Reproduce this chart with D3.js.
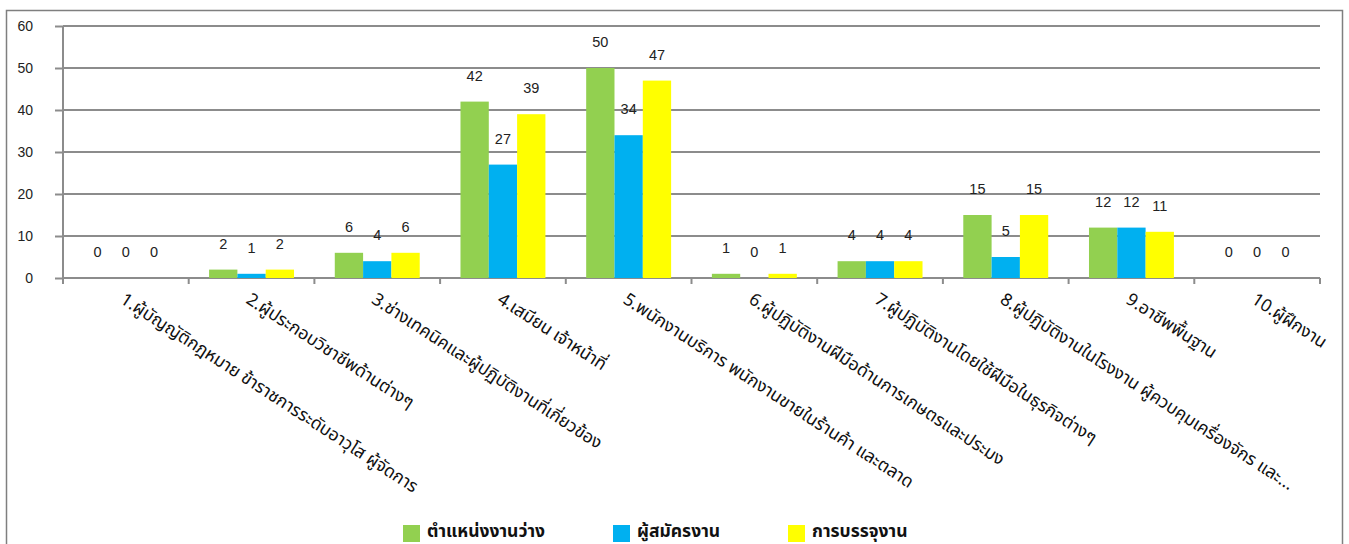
<!DOCTYPE html>
<html>
<head>
<meta charset="utf-8">
<script src="https://cdn.jsdelivr.net/npm/d3@7"></script>
<style>
body { margin: 0; background: #fff; }
svg { display: block; font-family: "Liberation Sans", Arial, "Noto Sans", sans-serif; }
.cat { font-family: "Noto Sans", "Noto Sans Thai", "DejaVu Sans", sans-serif; }
</style>
</head>
<body>
<script>
// chart data
var categories = [
	'1.ผู้บัญญัติกฎหมาย ข้าราชการระดับอาวุโส ผู้จัดการ',
	'2.ผู้ประกอบวิชาชีพด้านต่างๆ',
	'3.ช่างเทคนิคและผู้ปฏิบัติงานที่เกี่ยวข้อง',
	'4.เสมียน เจ้าหน้าที่',
	'5.พนักงานบริการ พนักงานขายในร้านค้า และตลาด',
	'6.ผู้ปฏิบัติงานฝีมือด้านการเกษตรและประมง',
	'7.ผู้ปฏิบัติงานโดยใช้ฝีมือในธุรกิจต่างๆ',
	'8.ผู้ปฏิบัติงานในโรงงาน ผู้ควบคุมเครื่องจักร และ...',
	'9.อาชีพพื้นฐาน',
	'10.ผู้ฝึกงาน'
];
var seriesNames = ['ตำแหน่งงานว่าง', 'ผู้สมัครงาน', 'การบรรจุงาน'];
var vacancies = [0, 2, 6, 42, 50, 1, 4, 15, 12, 0];
var applicants = [0, 1, 4, 27, 34, 0, 4, 5, 12, 0];
var placements = [0, 2, 6, 39, 47, 1, 4, 15, 11, 0];
var yTicks = [0, 10, 20, 30, 40, 50, 60];
var colors = ['#92D050', '#00B0F0', '#FFFF00'];

var series = [vacancies, applicants, placements];

var W = 1349, H = 544;
var margin = { left: 63, right: 29, top: 26 };
var plotRight = W - margin.right;
var plotBottom = 278;

var svg = d3.select('body').append('svg')
	.attr('width', W)
	.attr('height', H);

// outer frame
svg.append('rect')
	.attr('x', 6.5).attr('y', 10.5)
	.attr('width', 1336).attr('height', 560)
	.attr('fill', 'none')
	.attr('stroke', '#7f7f7f')
	.attr('stroke-width', 1.5);

var x = d3.scaleBand()
	.domain(categories)
	.range([margin.left, plotRight]);

var xInner = d3.scaleBand()
	.domain(d3.range(series.length))
	.range([0, x.bandwidth()])
	.paddingOuter(0.72);

var y = d3.scaleLinear()
	.domain([0, 60])
	.range([plotBottom, margin.top]);

// gridlines
svg.append('g')
	.selectAll('line')
	.data(yTicks.slice(1))
	.enter().append('line')
		.attr('x1', margin.left).attr('x2', plotRight)
		.attr('y1', function(d) { return y(d); })
		.attr('y2', function(d) { return y(d); })
		.attr('stroke', '#8c8c8c')
		.attr('stroke-width', 2);

// y axis
var yAxis = d3.axisLeft(y)
	.tickValues(yTicks)
	.tickSize(8)
	.tickPadding(22);

var gy = svg.append('g')
	.attr('transform', 'translate(' + margin.left + ',0)')
	.call(yAxis);
gy.select('.domain').attr('stroke', '#8c8c8c').attr('stroke-width', 2)
	.attr('d', 'M0,' + margin.top + 'V' + (plotBottom + 6));
gy.selectAll('.tick line').attr('stroke', '#8c8c8c').attr('stroke-width', 2);
gy.selectAll('.tick text')
	.attr('fill', '#222')
	.style('font-size', '14px');

// x axis line and ticks at category boundaries
svg.append('line')
	.attr('x1', margin.left).attr('x2', plotRight)
	.attr('y1', plotBottom).attr('y2', plotBottom)
	.attr('stroke', '#8c8c8c')
	.attr('stroke-width', 2);

var bounds = categories.map(function(c) { return x(c); }).concat([plotRight]);
svg.append('g')
	.selectAll('line')
	.data(bounds)
	.enter().append('line')
		.attr('x1', function(d) { return d; })
		.attr('x2', function(d) { return d; })
		.attr('y1', plotBottom).attr('y2', plotBottom + 6)
		.attr('stroke', '#8c8c8c')
		.attr('stroke-width', 2);

// bars
var groups = svg.append('g')
	.selectAll('g')
	.data(categories)
	.enter().append('g')
		.attr('transform', function(d) { return 'translate(' + x(d) + ',0)'; });

groups.selectAll('rect')
	.data(function(d, i) {
		return series.map(function(s, k) { return { k: k, v: s[i] }; });
	})
	.enter().append('rect')
		.attr('x', function(d) { return xInner(d.k); })
		.attr('width', xInner.bandwidth())
		.attr('y', function(d) { return y(d.v); })
		.attr('height', function(d) { return plotBottom - y(d.v); })
		.attr('fill', function(d) { return colors[d.k]; });

groups.selectAll('text')
	.data(function(d, i) {
		return series.map(function(s, k) { return { k: k, v: s[i] }; });
	})
	.enter().append('text')
		.attr('x', function(d) { return xInner(d.k) + xInner.bandwidth() / 2; })
		.attr('y', function(d) { return y(d.v) - 21; })
		.attr('text-anchor', 'middle')
		.attr('fill', '#222')
		.style('font-size', '14.5px')
		.text(function(d) { return d.v; });

// category labels
svg.append('g')
	.selectAll('text')
	.data(categories)
	.enter().append('text')
		.attr('class', 'cat')
		.attr('transform', function(d) {
			return 'translate(' + (x(d) + x.bandwidth() / 2) + ',' + 292 + ') rotate(33)';
		})
		.attr('dy', '0.7em')
		.attr('fill', '#111')
		.style('font-size', '17.5px')
		.text(function(d) { return d; });

// legend
var legendX = [403, 613, 788];
var legend = svg.append('g')
	.selectAll('g')
	.data(seriesNames)
	.enter().append('g')
		.attr('transform', function(d, i) { return 'translate(' + legendX[i] + ',525)'; });
legend.append('rect')
	.attr('width', 17).attr('height', 17)
	.attr('fill', function(d, i) { return colors[i]; });
legend.append('text')
	.attr('class', 'cat')
	.attr('x', 24).attr('y', 12)
	.attr('fill', '#111')
	.style('font-size', '17.5px')
	.style('font-weight', 'bold')
	.text(function(d) { return d; });
</script>
</body>
</html>
